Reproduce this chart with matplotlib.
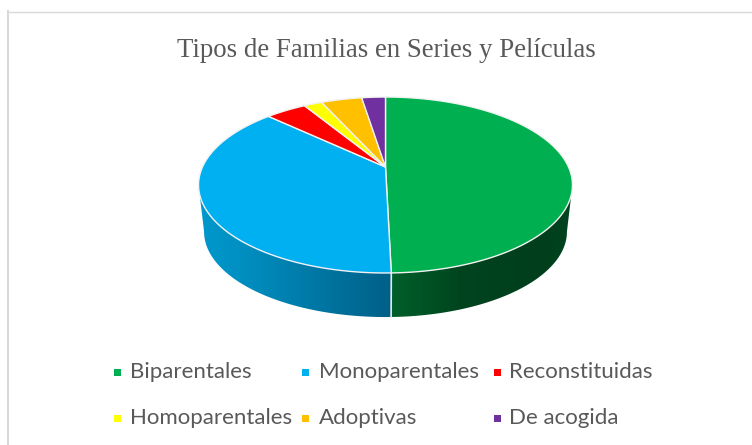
import numpy as np
import matplotlib
matplotlib.use("Agg")
import matplotlib.pyplot as plt
from matplotlib.colors import LinearSegmentedColormap
from matplotlib.patches import Polygon, Rectangle

# data
categories = ["Biparentales", "Monoparentales", "Reconstituidas",
              "Homoparentales", "Adoptivas", "De acogida"]
values = [49.6, 37.4, 4.3, 1.9, 4.3, 2.5]
colors = ["#00B050", "#00B0F0", "#FF0000", "#FFFF00", "#FFC000", "#7030A0"]
title = "Tipos de Familias en Series y Películas"

# perspective of the disc, in pixels
K = 0.2046
TOP = dict(x0=385.5, y0=167, a=183, b=84.3)
BOTTOM = dict(x0=385.5, y0=214.2, a=177.6, b=81.8)


def project(theta, p):
    # theta = clockwise from 12 o'clock
    x, y = np.sin(theta), np.cos(theta)
    w = 1 + K * y
    return p["x0"] + p["a"] * x / w, p["y0"] - p["b"] * y / w


fig = plt.figure(figsize=(7.52, 4.45), dpi=100)
ax = fig.add_axes([0, 0, 1, 1])
ax.set_xlim(0, 752)
ax.set_ylim(445, 0)
ax.axis("off")

# frame
ax.plot([752, 7.5], [11.5, 11.5], color="#D9D9D9", lw=1.0)
ax.plot([7.5, 7.5], [11, 445], color="#D9D9D9", lw=1.5)

edges = np.cumsum([0] + values) / sum(values) * 2 * np.pi
seam = edges[1]
xs, _ = project(np.array([seam]), TOP)
xs = xs[0]

# side wall: outline of the part facing us, filled with a left to right gradient
side = np.linspace(np.pi / 2 + np.arcsin(K), 3 * np.pi / 2 - np.arcsin(K), 300)
xa, ya = project(side, TOP)
xb, yb = project(side[::-1], BOTTOM)
outline = np.c_[np.r_[xa, xb], np.r_[ya, yb]]
side_patch = Polygon(outline, fc="none", ec="none", transform=ax.transData)
ax.add_patch(side_patch)

xl, xr = outline[:, 0].min(), outline[:, 0].max()
stops = [(xl, "#0098CC"), (xl + 40, "#0090C2"), (xs - 2, "#006088"), (xs, "#006088"),
         (xs + 0.5, "#005F2A"), (xs + 70, "#00441F"), (xr - 30, "#003E1C"), (xr, "#00451F")]
cmap = LinearSegmentedColormap.from_list(
    "wall", [((p - xl) / (xr - xl), c) for p, c in stops], N=1024)
im = ax.imshow(np.linspace(0, 1, 1024)[None, :], cmap=cmap, aspect="auto",
               extent=[xl, xr, 330, 170], zorder=2, interpolation="bilinear")
im.set_clip_path(side_patch)
ax.set_xlim(0, 752)
ax.set_ylim(445, 0)

# seam between the two visible walls
xa, ya = project(np.array([seam]), TOP)
xb, yb = project(np.array([seam]), BOTTOM)
ax.plot([xa[0], xb[0]], [ya[0], yb[0]], color="#E8E8E8", lw=1.2, zorder=3)

# top of the pie
for start, end, color in zip(edges[:-1], edges[1:], colors):
    ts = np.linspace(start, end, 200)
    x, y = project(ts, TOP)
    px = np.r_[TOP["x0"], x]
    py = np.r_[TOP["y0"], y]
    ax.add_patch(Polygon(np.c_[px, py], fc=color, ec="#F2F2F2", lw=1.0, zorder=4))

ax.text(386, 50.5, title, family="Liberation Serif", fontsize=19.4, color="#595959",
        ha="center", va="center")

# legend
col_marker = [117, 305, 497]
col_text = [130, 319, 509]
row_y = [373, 419]
for i, (name, color) in enumerate(zip(categories, colors)):
    r, c = divmod(i, 3)
    ax.add_patch(Rectangle((col_marker[c] - 3.5, row_y[r] - 4.5), 7, 7, fc=color, ec="none"))
    ax.text(col_text[c], row_y[r] - 1, name, family="Lato", fontsize=16,
            color="#595959", ha="left", va="center")

fig.savefig("out.png", dpi=100)
